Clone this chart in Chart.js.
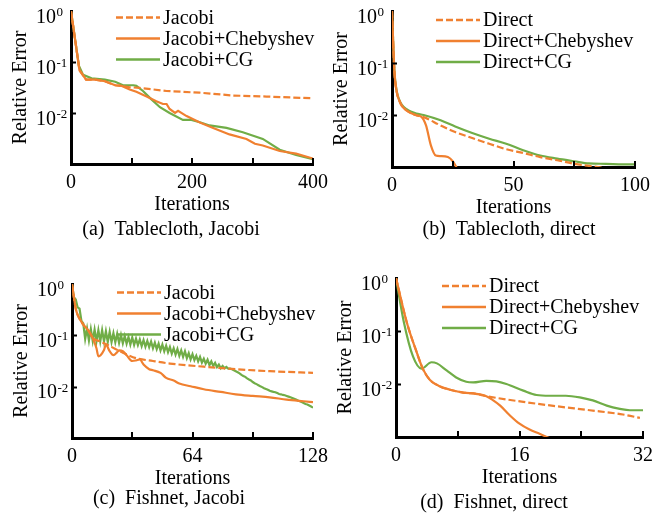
<!DOCTYPE html>
<html>
<head>
<meta charset="utf-8">
<title>Relative error vs iterations</title>
<script src="https://cdn.jsdelivr.net/npm/chart.js@4/dist/chart.umd.min.js"></script>
<style>
  body { margin: 0; background: #fff; }
  #wrap { position: relative; width: 671px; height: 517px; overflow: hidden; background: #fff; }
  #wrap canvas { position: absolute; }
</style>
</head>
<body>
<div id="wrap">
  <canvas id="chartA"></canvas>
  <canvas id="chartB"></canvas>
  <canvas id="chartC"></canvas>
  <canvas id="chartD"></canvas>
</div>
<script>
// y axis labels (log scale, 10^0 .. 10^-2)
const yTickValues = [1, 0.1, 0.01];

// (a) Tablecloth, Jacobi
const aJacobiIter = [0, 14, 25, 40, 56, 73, 84, 97, 114, 158, 213, 268, 323, 400];
const aJacobi = [1, 0.069, 0.045, 0.045, 0.042, 0.035, 0.034, 0.032, 0.031, 0.027, 0.025, 0.022, 0.021, 0.0194];
const aChebIter = [0, 14, 25, 40, 56, 73, 84, 97, 108, 125, 141, 152, 158, 163, 172, 177, 191, 213, 235, 262, 290, 304, 317, 345, 372, 400];
const aCheb = [1, 0.069, 0.045, 0.045, 0.042, 0.035, 0.034, 0.029, 0.026, 0.021, 0.017, 0.015, 0.015, 0.012, 0.010, 0.011, 0.0087, 0.0065, 0.0051, 0.0038, 0.0031, 0.0025, 0.0023, 0.0018, 0.0016, 0.00128];
const aCGIter = [0, 13, 20, 34, 56, 73, 86, 103, 108, 119, 133, 147, 163, 185, 199, 213, 229, 257, 284, 317, 345, 372, 400];
const aCG = [1, 0.085, 0.056, 0.048, 0.045, 0.041, 0.035, 0.035, 0.034, 0.027, 0.0185, 0.013, 0.010, 0.0073, 0.0073, 0.0066, 0.0057, 0.0051, 0.0042, 0.0031, 0.0019, 0.0015, 0.00125];

// (b) Tablecloth, direct
const bDirectIter = [0, 1, 2, 3, 4, 6, 8, 10, 13, 20, 26, 33, 40, 47, 54, 61, 68, 75, 81, 88, 95, 100];
const bDirect = [1, 0.068, 0.027, 0.019, 0.0152, 0.0122, 0.0108, 0.0099, 0.0091, 0.0063, 0.0047, 0.0036, 0.0028, 0.0022, 0.00186, 0.00155, 0.00135, 0.00115, 0.00105, 0.00095, 0.00089, 0.00085];
const bChebIter = [0, 1, 2, 3, 4, 6, 8, 10, 12, 14, 16, 18, 20, 23, 25, 27, 29, 32];
const bCheb = [1, 0.068, 0.027, 0.019, 0.0152, 0.0122, 0.0108, 0.0099, 0.0093, 0.0063, 0.0026, 0.00166, 0.00162, 0.00155, 0.00129, 0.00091, 0.00068, 0.0004];
const bCGIter = [0, 1, 2, 3, 4, 6, 8, 10, 13, 20, 26, 33, 40, 47, 54, 61, 68, 75, 81, 88, 95, 100];
const bCG = [1, 0.071, 0.028, 0.0195, 0.0158, 0.0129, 0.0115, 0.0107, 0.0100, 0.0079, 0.0060, 0.0045, 0.0035, 0.0028, 0.0021, 0.00166, 0.00145, 0.00129, 0.00117, 0.00115, 0.00112, 0.00112];

// (c) Fishnet, Jacobi
const cJacobiIter = [0, 2, 3, 6, 9, 11, 15, 20, 27, 34, 43, 52, 70, 87, 105, 128];
const cJacobi = [1, 0.33, 0.25, 0.162, 0.120, 0.089, 0.076, 0.062, 0.046, 0.036, 0.0316, 0.0282, 0.0245, 0.0219, 0.0200, 0.0186];
const cChebIter = [0, 2, 3, 6, 9, 11, 13, 14, 17, 18, 20, 22, 24, 25, 27, 29, 32, 34, 36, 38, 41, 43, 47, 50, 54, 57, 63, 70, 79, 87, 96, 105, 114, 123, 128];
const cCheb = [1, 0.33, 0.25, 0.162, 0.120, 0.089, 0.056, 0.039, 0.052, 0.066, 0.049, 0.041, 0.047, 0.051, 0.049, 0.041, 0.0316, 0.0324, 0.0339, 0.0269, 0.0219, 0.0209, 0.0186, 0.0148, 0.0132, 0.0115, 0.0102, 0.0089, 0.0079, 0.0071, 0.0066, 0.0062, 0.0056, 0.0052, 0.0050];
const cCGIter = Array.from({ length: 129 }, (_, i) => i);
const cCG = [
  1.0, 0.55, 0.50, 0.35, 0.33, 0.19, 0.17, 0.085, 0.135, 0.079,
  0.132, 0.078, 0.129, 0.076, 0.126, 0.076, 0.126, 0.076, 0.120, 0.074,
  0.117, 0.074, 0.110, 0.073, 0.107, 0.071, 0.102, 0.070, 0.097, 0.069,
  0.093, 0.066, 0.091, 0.065, 0.086, 0.0646, 0.083, 0.0617, 0.081, 0.060,
  0.078, 0.059, 0.076, 0.056, 0.072, 0.054, 0.069, 0.051, 0.066, 0.049,
  0.063, 0.047, 0.059, 0.044, 0.056, 0.042, 0.054, 0.040, 0.051, 0.038,
  0.049, 0.036, 0.045, 0.034, 0.043, 0.033, 0.040, 0.031, 0.038, 0.0295,
  0.035, 0.028, 0.0335, 0.0263, 0.031, 0.0254, 0.029, 0.024, 0.027, 0.0229,
  0.0254, 0.0229, 0.0243, 0.0224, 0.0224, 0.0219, 0.0209, 0.0200, 0.0191, 0.0182,
  0.0170, 0.0162, 0.0155, 0.0145, 0.0138, 0.0132, 0.0123, 0.0117, 0.0112, 0.0107,
  0.0102, 0.0098, 0.0093, 0.0090, 0.0087, 0.0083, 0.0081, 0.0079, 0.0078, 0.0075,
  0.0072, 0.0071, 0.0069, 0.0068, 0.0066, 0.0064, 0.0062, 0.0060, 0.0058, 0.0056,
  0.0054, 0.0052, 0.0050, 0.0048, 0.0046, 0.0045, 0.0043, 0.0041, 0.0039
];

// (d) Fishnet, direct
const dDirectIter = [0, 1.4, 2.7, 3.5, 4.4, 5.5, 7, 8.7, 10.4, 11.7, 16.5, 20.8, 25.1, 29.4, 31.6];
const dDirect = [1, 0.145, 0.039, 0.0191, 0.0119, 0.0093, 0.0078, 0.0069, 0.0065, 0.0059, 0.0046, 0.0038, 0.0032, 0.00266, 0.00229];
const dChebIter = [0, 1.4, 2.7, 3.5, 4.4, 5.5, 7, 8.7, 10.4, 11.7, 12.6, 13.5, 14.7, 16, 17.3, 18.6, 19.9, 21.5];
const dCheb = [1, 0.145, 0.039, 0.0191, 0.0119, 0.0093, 0.0078, 0.0069, 0.0065, 0.0059, 0.0049, 0.0039, 0.0026, 0.00178, 0.00138, 0.00115, 0.00095, 0.00076];
const dCGIter = [0, 1, 2.2, 3.3, 4.6, 5.3, 6.6, 7.8, 9.1, 10, 11.7, 13, 14.3, 16.5, 18.2, 19.9, 22, 23.8, 25.5, 27.3, 29, 30.3, 32];
const dCG = [1, 0.151, 0.0331, 0.0195, 0.0257, 0.0245, 0.0178, 0.0133, 0.0110, 0.0107, 0.0115, 0.0112, 0.0100, 0.0075, 0.0062, 0.0060, 0.0060, 0.0056, 0.0049, 0.0039, 0.0034, 0.0032, 0.0032];

const orange = 'rgb(240, 128, 48)';
const green = 'rgb(112, 173, 71)';
const serif = '"Liberation Serif", "Times New Roman", serif';

const pair = (xs, ys) => xs.map((x, i) => ({ x: x, y: ys[i] }));

// page layout of each subfigure (plot area in page pixels)
const panels = [
  { id: 'chartA', area: { x: 71, y: 11, w: 242, h: 153 }, xMax: 400, xStep: 100, labelEvery: 200,
    caption: '(a)  Tablecloth, Jacobi', capDx: 100, capDy: 66, legendTop: 6.5, legendX: 45,
    names: ['Jacobi', 'Jacobi+Chebyshev', 'Jacobi+CG'],
    series: [[aJacobiIter, aJacobi], [aChebIter, aCheb], [aCGIter, aCG]], smooth: [false, false, false] },
  { id: 'chartB', area: { x: 392, y: 11, w: 243, h: 156 }, xMax: 100, xStep: 25, labelEvery: 50,
    caption: '(b)  Tablecloth, direct', capDx: 117, capDy: 63, legendTop: 9, legendX: 44,
    names: ['Direct', 'Direct+Chebyshev', 'Direct+CG'],
    series: [[bDirectIter, bDirect], [bChebIter, bCheb], [bCGIter, bCG]], smooth: [true, true, true] },
  { id: 'chartC', area: { x: 72, y: 284, w: 241, h: 154 }, xMax: 128, xStep: 32, labelEvery: 64,
    caption: '(c)  Fishnet, Jacobi', capDx: 97, capDy: 61, legendTop: 8.5, legendX: 45,
    names: ['Jacobi', 'Jacobi+Chebyshev', 'Jacobi+CG'],
    series: [[cJacobiIter, cJacobi], [cChebIter, cCheb], [cCGIter, cCG]], smooth: [true, true, false] },
  { id: 'chartD', area: { x: 396, y: 278, w: 247, h: 159 }, xMax: 32, xStep: 8, labelEvery: 16,
    caption: '(d)  Fishnet, direct', capDx: 98, capDy: 66, legendTop: 8, legendX: 46,
    names: ['Direct', 'Direct+Chebyshev', 'Direct+CG'],
    series: [[dDirectIter, dDirect], [dChebIter, dCheb], [dCGIter, dCG]], smooth: [true, true, true] }
];

const PAD_TOP = 10, Y_AXIS_W = 62, PAD_RIGHT = 30, X_AXIS_H = 53, PAD_BOTTOM = 37;

// ticks, exponent labels, legend and caption drawn on top
const decorPlugin = {
  id: 'panelDecor',
  afterDraw(chart, args, opts) {
    const ctx = chart.ctx;
    const area = chart.chartArea;
    const xs = chart.scales.x;
    const ys = chart.scales.y;
    ctx.save();
    ctx.strokeStyle = '#000';
    ctx.fillStyle = '#000';
    ctx.lineWidth = 2;
    // small inward tick marks
    xs.ticks.forEach(t => {
      if (t.value === 0) return;
      const px = Math.round(xs.getPixelForValue(t.value));
      ctx.beginPath();
      ctx.moveTo(px, area.bottom);
      ctx.lineTo(px, area.bottom - 6);
      ctx.stroke();
    });
    yTickValues.forEach(v => {
      if (v === 1) return;
      const py = Math.round(ys.getPixelForValue(v)) + 0.5;
      ctx.beginPath();
      ctx.moveTo(area.left, py);
      ctx.lineTo(area.left + 5, py);
      ctx.stroke();
    });
    // 10 with a raised exponent
    yTickValues.forEach(v => {
      const py = ys.getPixelForValue(v);
      const x0 = area.left - 35;
      ctx.font = '20px ' + serif;
      ctx.textAlign = 'left';
      ctx.textBaseline = 'alphabetic';
      ctx.fillText('10', x0, py + 11.5);
      const w = ctx.measureText('10').width;
      ctx.font = '13px ' + serif;
      ctx.fillText(String(Math.round(Math.log10(v))), x0 + w + 0.5, py + 5);
    });
    // legend
    chart.data.datasets.forEach((ds, i) => {
      const y = area.top + opts.legendTop + i * 21;
      ctx.strokeStyle = ds.borderColor;
      ctx.lineWidth = 2.5;
      ctx.setLineDash(ds.borderDash || []);
      ctx.beginPath();
      ctx.moveTo(area.left + opts.legendX, y);
      ctx.lineTo(area.left + opts.legendX + 44, y);
      ctx.stroke();
      ctx.setLineDash([]);
      ctx.fillStyle = '#000';
      ctx.font = '20px ' + serif;
      ctx.textAlign = 'left';
      ctx.textBaseline = 'middle';
      ctx.fillText(ds.label, area.left + opts.legendX + 47, y + 1);
    });
    // caption
    ctx.font = '20px ' + serif;
    ctx.textAlign = 'center';
    ctx.textBaseline = 'middle';
    ctx.fillText(opts.caption, area.left + opts.capDx, area.bottom + opts.capDy);
    ctx.restore();
  }
};

const makeChart = (p) => {
  const canvas = document.getElementById(p.id);
  canvas.width = p.area.w + Y_AXIS_W + PAD_RIGHT;
  canvas.height = p.area.h + PAD_TOP + X_AXIS_H + PAD_BOTTOM;
  canvas.style.left = (p.area.x - Y_AXIS_W) + 'px';
  canvas.style.top = (p.area.y - PAD_TOP) + 'px';

  const datasets = p.series.map((s, i) => ({
    label: p.names[i],
    data: pair(s[0], s[1]),
    borderColor: i === 2 ? green : orange,
    borderDash: i === 0 ? [7, 3] : [],
    borderWidth: 2.2,
    pointRadius: 0,
    fill: false,
    cubicInterpolationMode: p.smooth[i] ? 'monotone' : 'default',
    tension: 0
  }));

  return new Chart(canvas, {
    type: 'line',
    data: { datasets: datasets },
    options: {
      responsive: false,
      animation: false,
      layout: { padding: { top: PAD_TOP, right: PAD_RIGHT, bottom: PAD_BOTTOM, left: 0 } },
      scales: {
        x: {
          type: 'linear',
          min: 0,
          max: p.xMax,
          afterFit: (scale) => { scale.height = X_AXIS_H; },
          grid: { display: false, drawTicks: false },
          border: { display: true, color: '#000', width: 3 },
          ticks: {
            stepSize: p.xStep,
            padding: 7,
            color: '#000',
            font: { family: serif, size: 20 },
            maxRotation: 0,
            autoSkip: false,
            callback: (v) => (v % p.labelEvery === 0 ? String(v) : '')
          },
          title: { display: true, text: 'Iterations', color: '#000', font: { family: serif, size: 20 }, padding: 0 }
        },
        y: {
          type: 'logarithmic',
          min: 0.001,
          max: 1,
          afterBuildTicks: (scale) => { scale.ticks = yTickValues.map(v => ({ value: v })); },
          afterFit: (scale) => { scale.width = Y_AXIS_W; },
          grid: { display: false, drawTicks: false },
          border: { display: true, color: '#000', width: 3 },
          ticks: { display: false },
          title: { display: true, text: 'Relative Error', color: '#000', font: { family: serif, size: 20 }, padding: 0 }
        }
      },
      plugins: {
        legend: { display: false },
        tooltip: { enabled: false },
        panelDecor: { caption: p.caption, capDx: p.capDx, capDy: p.capDy, legendTop: p.legendTop, legendX: p.legendX }
      }
    },
    plugins: [decorPlugin]
  });
};

panels.forEach(makeChart);
</script>
</body>
</html>
